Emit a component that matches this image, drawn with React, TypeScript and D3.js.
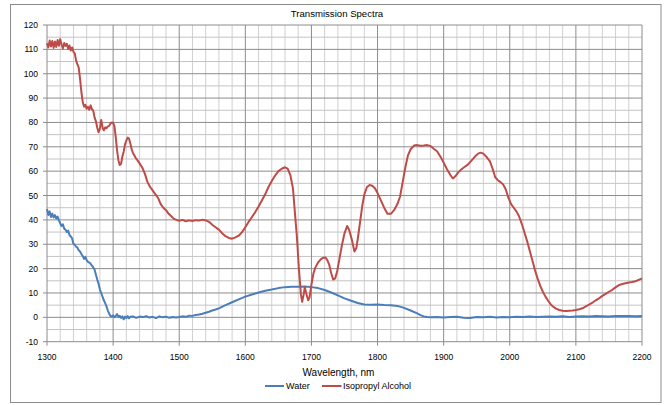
import React from "react";
import * as d3 from "d3";

const title = "Transmission Spectra";
const xTitle = "Wavelength, nm";
const seriesNames = ["Water", "Isopropyl Alcohol"];
const seriesColors = ["#4A7EBB", "#BE4B48"];
const xTicks = [1300, 1400, 1500, 1600, 1700, 1800, 1900, 2000, 2100, 2200];
const yTicks = [-10, 0, 10, 20, 30, 40, 50, 60, 70, 80, 90, 100, 110, 120];

const waterWl = [
  1300, 1302, 1304, 1306, 1308, 1310, 1312, 1314, 1316, 1318, 1320, 1322, 1324, 1326, 1328, 1330,
  1332, 1334, 1336, 1338, 1340, 1342, 1344, 1346, 1348, 1350, 1352, 1354, 1356, 1358, 1360, 1362,
  1364, 1366, 1368, 1370, 1372, 1374, 1376, 1378, 1380, 1382, 1384, 1386, 1388, 1390, 1392, 1394,
  1396, 1398, 1400, 1402, 1404, 1406, 1408, 1410, 1412, 1414, 1416, 1418, 1420, 1422, 1424, 1426,
  1430, 1435, 1440, 1445, 1450, 1455, 1460, 1465, 1470, 1475, 1480, 1485, 1490, 1495, 1500, 1505,
  1510, 1515, 1520, 1525, 1530, 1535, 1540, 1545, 1550, 1555, 1560, 1570, 1580, 1590, 1600, 1610,
  1620, 1630, 1640, 1650, 1660, 1670, 1680, 1690, 1700, 1710, 1720, 1730, 1740, 1750, 1760, 1770,
  1780, 1790, 1800, 1810, 1820, 1830, 1840, 1850, 1860, 1865, 1870, 1875, 1880, 1890, 1900, 1910,
  1920, 1930, 1940, 1950, 1960, 1970, 1980, 1990, 2000, 2010, 2020, 2030, 2040, 2050, 2060, 2070,
  2080, 2090, 2100, 2110, 2120, 2130, 2140, 2150, 2160, 2170, 2180, 2190, 2200,
];
const waterT = [
  44.5, 42.0, 43.5, 41.2, 42.6, 41.0, 42.0, 40.5, 41.4, 39.8, 38.6, 37.5, 38.2, 36.4, 36.0, 35.0,
  35.6, 33.8, 33.2, 32.4, 30.2, 29.8, 29.0, 28.6, 27.5, 27.0, 26.0, 25.2, 24.0, 24.8, 23.5, 22.8,
  22.5, 22.0, 21.2, 20.5, 19.5, 17.5, 15.5, 13.8, 11.5, 10.0, 8.5, 7.0, 5.8, 4.5, 2.8, 1.5,
  0.6, 0.3, 0.8, 0.1, 0.5, 1.3, 0.2, 0.6, -0.2, 0.4, -0.8, 0.3, -0.3, 0.5, -0.4, 0.2,
  0.4, -0.2, 0.3, 0.1, 0.5, -0.1, 0.2, -0.3, 0.4, 0.0, 0.3, -0.2, 0.1, -0.1, 0.1, 0.4,
  0.2, 0.7, 0.6, 1.0, 1.2, 1.5, 1.9, 2.3, 2.8, 3.2, 3.7, 5.0, 6.2, 7.4, 8.5, 9.4,
  10.2, 10.9, 11.4, 12.0, 12.4, 12.6, 12.6, 12.7, 12.4, 12.0, 11.2, 10.2, 9.0, 7.8, 6.8, 5.9,
  5.3, 5.2, 5.3, 5.1, 5.0, 4.7, 3.9, 2.8, 1.6, 0.9, 0.4, 0.1, 0.0, 0.1, -0.1, 0.1,
  0.2, -0.2, -0.3, 0.1, 0.0, 0.2, -0.1, 0.1, 0.0, 0.2, 0.1, 0.3, 0.1, 0.2, 0.3, 0.2,
  0.4, 0.1, 0.3, 0.4, 0.3, 0.5, 0.4, 0.3, 0.6, 0.5, 0.6, 0.4, 0.5,
];

const ipaWl = [
  1300, 1302, 1304, 1306, 1308, 1310, 1312, 1314, 1316, 1318, 1320, 1322, 1324, 1326, 1328, 1330,
  1332, 1334, 1336, 1338, 1340, 1342, 1344, 1346, 1348, 1350, 1352, 1354, 1356, 1358, 1360, 1362,
  1364, 1366, 1368, 1370, 1372, 1374, 1376, 1378, 1380, 1382, 1384, 1386, 1388, 1390, 1392, 1394,
  1396, 1398, 1400, 1402, 1404, 1406, 1408, 1410, 1412, 1414, 1416, 1418, 1420, 1422, 1424, 1426,
  1428, 1430, 1432, 1434, 1436, 1438, 1440, 1444, 1448, 1452, 1456, 1460, 1464, 1468, 1472, 1476,
  1480, 1484, 1488, 1492, 1496, 1500, 1505, 1510, 1515, 1520, 1525, 1530, 1535, 1540, 1545, 1550,
  1555, 1560, 1565, 1570, 1575, 1580, 1585, 1590, 1595, 1600, 1605, 1610, 1615, 1620, 1625, 1630,
  1635, 1640, 1645, 1650, 1655, 1660, 1664, 1668, 1672, 1675, 1678, 1681, 1684, 1686, 1688, 1690,
  1692, 1695, 1697, 1700, 1703, 1706, 1710, 1714, 1718, 1721, 1724, 1727, 1730, 1733, 1736, 1739,
  1742, 1746, 1750, 1754, 1757, 1761, 1765, 1768, 1771, 1774, 1777, 1780, 1784, 1788, 1792, 1796,
  1800, 1805, 1810, 1815, 1820, 1825, 1830, 1834, 1838, 1842, 1846, 1850, 1855, 1860, 1865, 1870,
  1875, 1880, 1885, 1890, 1895, 1900, 1905, 1910, 1914, 1918, 1922, 1927, 1932, 1937, 1942, 1947,
  1952, 1956, 1960, 1965, 1970, 1974, 1978, 1982, 1986, 1990, 1994, 1998, 2002, 2006, 2010, 2014,
  2018, 2022, 2026, 2030, 2034, 2038, 2042, 2046, 2050, 2054, 2058, 2062, 2066, 2070, 2075, 2080,
  2085, 2090, 2095, 2100, 2105, 2110, 2115, 2120, 2125, 2130, 2135, 2140, 2145, 2150, 2155, 2160,
  2165, 2170, 2175, 2180, 2185, 2190, 2195, 2200,
];
const ipaT = [
  112.5, 110.8, 113.6, 111.2, 113.4, 110.6, 113.2, 111.0, 113.8, 111.5, 114.2, 112.0, 110.4, 112.6, 111.4, 112.3,
  110.2, 111.6, 109.5, 110.8, 109.0, 108.3, 105.5, 103.8, 102.5, 98.0, 92.5, 88.5, 86.5, 87.2, 85.6, 86.4,
  85.2, 87.0, 85.4, 84.8, 82.0, 80.5, 77.8, 76.0, 77.5, 81.0, 78.0, 76.8, 78.0, 77.6, 78.4, 78.6,
  79.6, 80.0, 79.8, 78.5, 74.0, 68.5, 64.5, 62.5, 63.0, 66.0, 68.0, 71.0, 72.5, 73.8, 73.4, 71.5,
  69.0, 67.5, 66.5, 65.5, 64.8, 64.0, 63.2, 61.5, 59.0, 55.5, 53.5, 52.0, 50.5, 49.0, 46.5, 45.0,
  44.0, 42.5, 41.5, 40.4, 40.0, 39.6, 40.0, 39.4, 39.8, 39.5, 39.9, 39.7, 40.1, 39.8, 39.2, 38.0,
  37.0, 36.0, 34.5, 33.3, 32.6, 32.3, 32.8, 33.5, 35.0, 37.0, 39.2, 41.2, 43.2, 45.5, 48.0, 50.5,
  53.5, 56.0, 58.2, 60.0, 61.0, 61.6, 61.0, 58.5, 53.0, 43.0, 33.0, 20.0, 9.5, 6.4, 9.0, 12.4,
  10.0, 7.0, 8.0, 13.5, 18.0, 20.5, 22.5, 23.8, 24.5, 24.6, 23.5, 21.5, 18.0, 15.5, 16.0, 19.0,
  23.5, 29.5, 34.5, 37.5, 36.0, 32.0, 27.0, 28.5, 34.0, 40.0, 46.0, 50.5, 53.5, 54.3, 54.0, 53.0,
  51.0, 48.0, 45.0, 42.5, 42.5, 44.0, 46.5, 49.5, 55.5, 61.5, 66.5, 69.0, 70.5, 70.7, 70.4, 70.5,
  70.7, 70.3, 69.2, 68.2, 66.0, 63.5, 60.8, 58.5, 57.0, 58.0, 59.5, 60.8, 61.8, 62.8, 64.3, 65.9,
  67.2, 67.6, 67.2, 65.8, 64.0, 61.0, 57.5, 56.3, 55.5, 54.5, 52.5, 49.0, 46.5, 45.0, 43.5, 41.5,
  38.5, 35.0, 31.5, 27.5, 23.5, 19.5, 16.0, 13.0, 10.5, 8.5, 6.8, 5.3, 4.3, 3.6, 3.0, 2.7,
  2.6, 2.7, 2.8, 3.0, 3.3, 3.7, 4.5, 5.2, 6.0, 7.0, 7.8, 8.8, 9.6, 10.5, 11.3, 12.3,
  13.2, 13.7, 14.0, 14.3, 14.5, 14.8, 15.4, 16.0,
];

const W = 664;
const H = 405;
const FONT = "'Liberation Sans', Arial, sans-serif";

export default function App() {
  const x = d3.scaleLinear().domain([1300, 2200]).range([47, 642]);
  const y = d3.scaleLinear().domain([-10, 120]).range([341.7, 25]);

  const xMinor = d3.range(1300, 2201, 20).filter((v) => v % 100 !== 0);
  const yMinor = d3.range(-10, 121, 5).filter((v) => v % 10 !== 0);

  const line = d3
    .line<[number, number]>()
    .x((d) => x(d[0]))
    .y((d) => y(d[1]));

  const water: [number, number][] = waterWl.map((w, i) => [w, waterT[i]]);
  const ipa: [number, number][] = ipaWl.map((w, i) => [w, ipaT[i]]);

  const [x0, x1] = x.range();
  const [y0, y1] = y.range();

  return (
    <svg
      width={W}
      height={H}
      style={{ position: "absolute", left: 0, top: 0, background: "#fff" }}
      fontFamily={FONT}
    >
      <rect x={10.5} y={4.5} width={650.5} height={398} fill="#fff" stroke="#8c8c8c" strokeWidth={1} />
      <text x={337} y={16.5} textAnchor="middle" fontSize={9.6} fill="#000">
        {title}
      </text>

      {xMinor.map((v) => (
        <line key={"xm" + v} x1={x(v)} x2={x(v)} y1={y1} y2={y0} stroke="#d0d0d0" strokeWidth={1} />
      ))}
      {yMinor.map((v) => (
        <line key={"ym" + v} x1={x0} x2={x1} y1={y(v)} y2={y(v)} stroke="#c4c4c4" strokeWidth={1} />
      ))}
      {xTicks.map((v) => (
        <line key={"xM" + v} x1={x(v)} x2={x(v)} y1={y1} y2={y0} stroke="#8c8c8c" strokeWidth={1} />
      ))}
      {yTicks.map((v) => (
        <line key={"yM" + v} x1={x0} x2={x1} y1={y(v)} y2={y(v)} stroke="#8c8c8c" strokeWidth={1} />
      ))}

      {/* axis ticks */}
      {yTicks.map((v) => (
        <line key={"yt" + v} x1={x0 - 4} x2={x0} y1={y(v)} y2={y(v)} stroke="#8c8c8c" strokeWidth={1} />
      ))}
      {xTicks.map((v) => (
        <line key={"xt" + v} x1={x(v)} x2={x(v)} y1={y0} y2={y0 + 4} stroke="#8c8c8c" strokeWidth={1} />
      ))}

      {yTicks.map((v) => (
        <text key={"yl" + v} x={38} y={y(v) + 3} textAnchor="end" fontSize={8.5} fill="#000">
          {v}
        </text>
      ))}
      {xTicks.map((v) => (
        <text key={"xl" + v} x={x(v)} y={360} textAnchor="middle" fontSize={8.5} fill="#000">
          {v}
        </text>
      ))}

      <path d={line(water) || ""} fill="none" stroke={seriesColors[0]} strokeWidth={2} strokeLinejoin="round" />
      <path d={line(ipa) || ""} fill="none" stroke={seriesColors[1]} strokeWidth={2} strokeLinejoin="round" />

      <text x={338.5} y={375.5} textAnchor="middle" fontSize={10} fill="#000">
        {xTitle}
      </text>

      <line x1={265} x2={284} y1={386} y2={386} stroke={seriesColors[0]} strokeWidth={2} />
      <text x={286} y={389} fontSize={9} fill="#000">
        {seriesNames[0]}
      </text>
      <line x1={322} x2={341.5} y1={386} y2={386} stroke={seriesColors[1]} strokeWidth={2} />
      <text x={343} y={389} fontSize={9} fill="#000">
        {seriesNames[1]}
      </text>
    </svg>
  );
}
